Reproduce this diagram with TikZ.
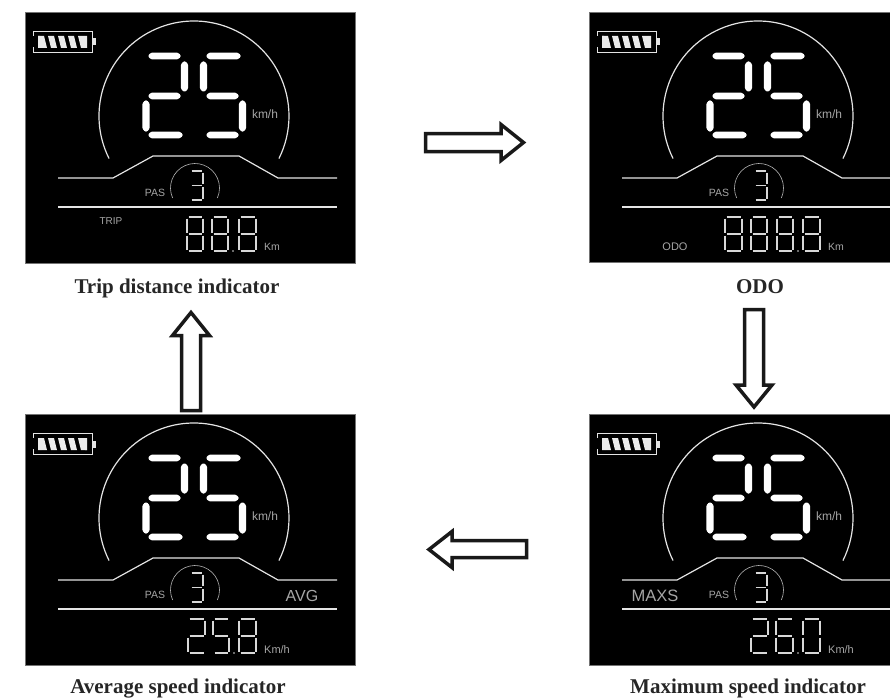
\documentclass[tikz,border=0pt]{standalone}
\usepackage{fontspec}
\setmainfont{Liberation Serif}
\setsansfont{Liberation Sans}
\definecolor{lcdline}{HTML}{E4E4E4}
\definecolor{lcdtext}{HTML}{A6A6A6}
\definecolor{lcdseg}{HTML}{D8D8D8}
\tikzset{
  panelbox/.style={fill=black,draw=black!55,line width=0.7pt},
  lcdrule/.style={draw=lcdline,line width=1.2pt},
  thinarc/.style={draw=lcdtext!85,line width=0.6pt},
  bigseg/.style={fill=white,rounded corners=0.8pt},
  smallseg/.style={draw=lcdseg,line width=1.1pt},
  lcdlabel/.style={font=\sffamily\fontsize{#1}{#1}\selectfont,text=lcdtext,inner sep=0pt},
  caption/.style={font=\bfseries\fontsize{21}{23}\selectfont,text=black!85,inner sep=0pt,anchor=base},
  blockarrow/.style={draw=black!90,line width=3.5pt,fill=white,line join=miter}
}
\newcommand{\hseg}[3]{\fill[bigseg] (#1-0.5,#3-1.2) -- (#1+2.5,#3-3.4) -- (#2-2.5,#3-3.4) -- (#2+0.5,#3-1.2) -- (#2+0.5,#3+1.2) -- (#2-2.5,#3+3.4) -- (#1+2.5,#3+3.4) -- (#1-0.5,#3+1.2) -- cycle;}
\newcommand{\vseg}[3]{\fill[bigseg] (#1-1.2,#2-0.5) -- (#1+1.2,#2-0.5) -- (#1+3.6,#2+2.5) -- (#1+3.6,#3-2.5) -- (#1+1.2,#3+0.5) -- (#1-1.2,#3+0.5) -- (#1-3.6,#3-2.5) -- (#1-3.6,#2+2.5) -- cycle;}
\newcommand{\segA}{\draw[smallseg] (1.5,0) -- (\dw-1.5,0);}
\newcommand{\segB}{\draw[smallseg] (\dw,1.5) -- (\dw,\dh/2-1.5);}
\newcommand{\segC}{\draw[smallseg] (\dw,\dh/2+1.5) -- (\dw,\dh-1.5);}
\newcommand{\segD}{\draw[smallseg] (1.5,\dh) -- (\dw-1.5,\dh);}
\newcommand{\segE}{\draw[smallseg] (0,\dh/2+1.5) -- (0,\dh-1.5);}
\newcommand{\segF}{\draw[smallseg] (0,1.5) -- (0,\dh/2-1.5);}
\newcommand{\segG}{\draw[smallseg] (1.5,\dh/2) -- (\dw-1.5,\dh/2);}
\newcommand{\lcddigit}[5]{\begin{scope}[shift={(#1,#2)}]\def\dw{#3}\def\dh{#4}\foreach \s in {#5}{\csname seg\s\endcsname}\end{scope}}
\newcommand{\lcdcommon}{%
  % battery
  \draw[draw=lcdline,line width=0.9pt] (8,24) -- (8,19) -- (67,19) -- (67,40) -- (8,40) -- (8,35);
  \foreach \bx in {13,23,33,43,53}{\fill[white!92!black] (\bx,24) -- (\bx+6,24) -- (\bx+9,36) -- (\bx+3,36) -- cycle;}
  \fill[white!92!black] (13,24) -- (15,24) -- (16,36) -- (13,36) -- cycle;
  \fill[white!92!black] (59,24) -- (62,24) -- (62,36) -- (60,36) -- cycle;
  \fill[lcdline] (67.5,26.5) rectangle (70.5,33.5);
  % speed arc
  \draw[lcdrule] (169,104) ++(153.4:95pt) arc[start angle=153.4,end angle=386.6,radius=95pt];
  % big 25
  \hseg{124}{155}{44}\vseg{159.5}{50}{79}\hseg{124}{155}{84}\vseg{121}{89}{119}\hseg{124}{157}{123}
  \hseg{182}{215}{44}\vseg{178.5}{50}{79}\hseg{182}{213}{84}\vseg{217.5}{89}{119}\hseg{182}{213}{123}
  \node[lcdlabel=12] (kmh) at (240,102) {km/h};
  % road lines
  \draw[lcdrule,line join=round] (33,166) -- (88,166) -- (128,144) -- (214,144) -- (253,166) -- (312,166);
  \draw[lcdrule] (33,195) -- (312,195);
  % PAS
  \draw[thinarc] (170,176) ++(156:24.5pt) arc[start angle=156,end angle=384,radius=24.5pt];
  \lcddigit{165}{159}{13}{29}{A,B,G,C,D}
  \node[lcdlabel=10.5] (pas) at (130,181) {PAS};
}
\begin{document}
\begin{tikzpicture}[x=1pt,y=1pt,yscale=-1]
\useasboundingbox (0,0) rectangle (890,698);
\fill[white] (0,0) rectangle (890,698);
% Trip panel
\begin{scope}[shift={(25,12)}]
  \draw[panelbox] (0,0) rectangle (330,251);
  \lcdcommon
  \node[lcdlabel=10] (trip) at (86,209) {TRIP};
  \lcddigit{162}{205}{16}{34}{A,B,C,D,E,F,G}
  \lcddigit{187}{205}{16}{34}{A,B,C,D,E,F,G}
  \lcddigit{214}{205}{17}{34}{A,B,C,D,E,F,G}
  \fill[lcdseg] (208,239) circle (0.8);
  \node[lcdlabel=10.5] (km1) at (247,235) {Km};
\end{scope}
% ODO panel
\begin{scope}
\clip (0,0) rectangle (890,698);
\begin{scope}[shift={(589,12)}]
  \draw[panelbox] (0,0) rectangle (310,250);
  \lcdcommon
  \node[lcdlabel=11] (odo) at (86,235) {ODO};
  \lcddigit{136}{205}{17}{34}{A,B,C,D,E,F,G}
  \lcddigit{162}{205}{16}{34}{A,B,C,D,E,F,G}
  \lcddigit{188}{205}{16}{34}{A,B,C,D,E,F,G}
  \lcddigit{214}{205}{17}{34}{A,B,C,D,E,F,G}
  \fill[lcdseg] (209,239) circle (0.8);
  \node[lcdlabel=10.5] (km2) at (247,235) {Km};
\end{scope}
\end{scope}
% Average panel
\begin{scope}[shift={(25,414)}]
  \draw[panelbox] (0,0) rectangle (330,251);
  \lcdcommon
  \node[lcdlabel=16] (avg) at (277,182) {AVG};
  \lcddigit{163}{205}{17}{34}{A,B,G,E,D}
  \lcddigit{188}{205}{16}{34}{A,F,G,C,D}
  \lcddigit{214}{205}{17}{34}{A,B,C,D,E,F,G}
  \fill[lcdseg] (209,239) circle (0.8);
  \node[lcdlabel=11] (km3) at (252,236) {Km/h};
\end{scope}
% Maximum panel
\begin{scope}
\clip (0,0) rectangle (890,698);
\begin{scope}[shift={(589,414)}]
  \draw[panelbox] (0,0) rectangle (310,251);
  \lcdcommon
  \node[lcdlabel=16.5] (maxs) at (66,182) {MAXS};
  \lcddigit{162}{205}{17}{34}{A,B,G,E,D}
  \lcddigit{187}{205}{17}{34}{A,F,G,E,D,C}
  \lcddigit{214}{205}{17}{34}{A,B,C,D,E,F}
  \fill[lcdseg] (209,239) circle (0.8);
  \node[lcdlabel=11] (km4) at (252,236) {Km/h};
\end{scope}
\end{scope}
% Captions
\node[caption] (captrip) at (177,293) {Trip distance indicator};
\node[caption] (capodo) at (760,293) {ODO};
\node[caption] (capavg) at (178,693) {Average speed indicator};
\node[caption] (capmax) at (748,693) {Maximum speed indicator};
% Block arrows
\draw[blockarrow] (425.5,133.5) -- (501,133.5) -- (501,124.5) -- (523.5,142.5) -- (501,160.5) -- (501,151.5) -- (425.5,151.5) -- cycle;
\draw[blockarrow] (744.5,309.5) -- (763.5,309.5) -- (763.5,385) -- (772,385) -- (754,407) -- (736,385) -- (744.5,385) -- cycle;
\draw[blockarrow] (526.5,540.5) -- (452,540.5) -- (452,531.5) -- (429,549.5) -- (452,567.5) -- (452,557.5) -- (526.5,557.5) -- cycle;
\draw[blockarrow] (181.5,410.5) -- (200.5,410.5) -- (200.5,335.5) -- (209.5,335.5) -- (191,312.5) -- (172.5,335.5) -- (181.5,335.5) -- cycle;
\end{tikzpicture}
\end{document}
